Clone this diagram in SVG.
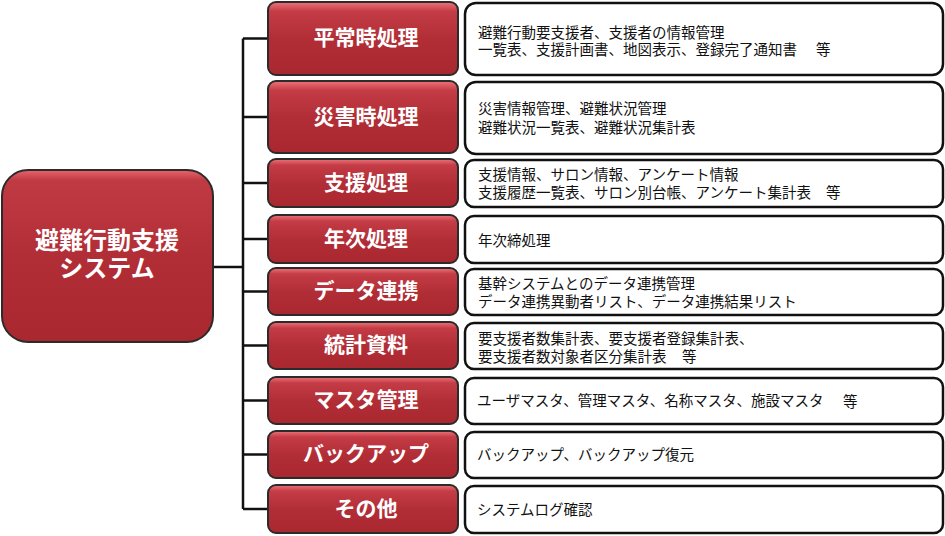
<svg xmlns="http://www.w3.org/2000/svg" width="945" height="536" viewBox="0 0 945 536">
<defs>
<linearGradient id="red" x1="0" y1="0" x2="0" y2="1">
<stop offset="0" stop-color="#EE737B"/>
<stop offset="0.13" stop-color="#C43C45"/>
<stop offset="0.5" stop-color="#B22E37"/>
<stop offset="1" stop-color="#A9272F"/>
</linearGradient>
<linearGradient id="redMain" x1="0" y1="0" x2="0" y2="1">
<stop offset="0" stop-color="#E9646D"/>
<stop offset="0.06" stop-color="#C03A43"/>
<stop offset="0.5" stop-color="#B22E37"/>
<stop offset="1" stop-color="#A9272F"/>
</linearGradient>
</defs>
<style>
.cat{fill:url(#red);stroke:#2b2b2b;stroke-width:2}
.main{fill:url(#redMain);stroke:#2b2b2b;stroke-width:2}
.box{fill:#fff;stroke:#111;stroke-width:2.5}
.ct{font-family:"Noto Sans CJK JP","Noto Sans",sans-serif;font-weight:bold;font-size:21px;fill:#fff;text-anchor:middle;dominant-baseline:central}
.mt{font-family:"Noto Sans CJK JP","Noto Sans",sans-serif;font-weight:bold;font-size:24px;fill:#fff;text-anchor:middle;dominant-baseline:central}
.bt{font-family:"Noto Sans CJK JP","Noto Sans",sans-serif;font-size:14.5px;fill:#111;dominant-baseline:central}
.ln{stroke:#111;stroke-width:2.5;fill:none}
</style>
<g id="connectors">
<line class="ln" x1="213" y1="267" x2="243" y2="267"/>
<line class="ln" x1="243" y1="38.5" x2="243" y2="509"/>
<line class="ln" x1="243" y1="38.5" x2="268" y2="38.5"/>
<line class="ln" x1="243" y1="117" x2="268" y2="117"/>
<line class="ln" x1="243" y1="183" x2="268" y2="183"/>
<line class="ln" x1="243" y1="239" x2="268" y2="239"/>
<line class="ln" x1="243" y1="291.5" x2="268" y2="291.5"/>
<line class="ln" x1="243" y1="345.5" x2="268" y2="345.5"/>
<line class="ln" x1="243" y1="400.5" x2="268" y2="400.5"/>
<line class="ln" x1="243" y1="454.5" x2="268" y2="454.5"/>
<line class="ln" x1="243" y1="509" x2="268" y2="509"/>
</g>
<g id="root">
<rect class="main" x="2" y="170" width="211" height="172" rx="26"/>
<text class="mt"><tspan x="107" y="237.5">避難行動支援</tspan><tspan x="107" y="266">システム</tspan></text>
</g>
<g id="n1">
<rect class="cat" x="268" y="2" width="190" height="73" rx="8"/>
<text class="ct" x="366" y="35.5">平常時処理</text>
<rect class="box" x="465" y="3" width="478" height="72" rx="11"/>
<text class="bt"><tspan x="478" y="30.5">避難行動要支援者、支援者の情報管理</tspan><tspan x="478" y="47.5">一覧表、支援計画書、地図表示、登録完了通知書</tspan><tspan x="816" y="47.5">等</tspan></text>
</g>
<g id="n2">
<rect class="cat" x="268" y="81" width="190" height="72" rx="8"/>
<text class="ct" x="366" y="114.5">災害時処理</text>
<rect class="box" x="465" y="82" width="478" height="72" rx="11"/>
<text class="bt"><tspan x="478" y="107">災害情報管理、避難状況管理</tspan><tspan x="478" y="125.5">避難状況一覧表、避難状況集計表</tspan></text>
</g>
<g id="n3">
<rect class="cat" x="268" y="159" width="190" height="48" rx="8"/>
<text class="ct" x="366" y="180.5">支援処理</text>
<rect class="box" x="465" y="160" width="478" height="47" rx="9"/>
<text class="bt"><tspan x="478" y="173">支援情報、サロン情報、アンケート情報</tspan><tspan x="478" y="191">支援履歴一覧表、サロン別台帳、アンケート集計表</tspan><tspan x="826" y="191">等</tspan></text>
</g>
<g id="n4">
<rect class="cat" x="268" y="215" width="190" height="48" rx="8"/>
<text class="ct" x="366" y="236.5">年次処理</text>
<rect class="box" x="465" y="216" width="478" height="47" rx="9"/>
<text class="bt" x="478" y="239">年次締処理</text>
</g>
<g id="n5">
<rect class="cat" x="268" y="268" width="190" height="47" rx="8"/>
<text class="ct" x="366" y="289">データ連携</text>
<rect class="box" x="465" y="269" width="478" height="46" rx="9"/>
<text class="bt"><tspan x="478" y="282">基幹システムとのデータ連携管理</tspan><tspan x="478" y="300">データ連携異動者リスト、データ連携結果リスト</tspan></text>
</g>
<g id="n6">
<rect class="cat" x="268" y="322" width="190" height="47" rx="8"/>
<text class="ct" x="366" y="343">統計資料</text>
<rect class="box" x="465" y="323" width="478" height="46" rx="9"/>
<text class="bt"><tspan x="478" y="337">要支援者数集計表、要支援者登録集計表、</tspan><tspan x="478" y="355">要支援者数対象者区分集計表</tspan><tspan x="682" y="355">等</tspan></text>
</g>
<g id="n7">
<rect class="cat" x="268" y="377" width="190" height="47" rx="8"/>
<text class="ct" x="366" y="398">マスタ管理</text>
<rect class="box" x="465" y="378" width="478" height="46" rx="9"/>
<text class="bt" x="477" y="399.5">ユーザマスタ、管理マスタ、名称マスタ、施設マスタ<tspan x="843">等</tspan></text>
</g>
<g id="n8">
<rect class="cat" x="268" y="431" width="190" height="47" rx="8"/>
<text class="ct" x="366" y="452">バックアップ</text>
<rect class="box" x="465" y="432" width="478" height="46" rx="9"/>
<text class="bt" x="477" y="453.5">バックアップ、バックアップ復元</text>
</g>
<g id="n9">
<rect class="cat" x="268" y="485" width="190" height="48" rx="8"/>
<text class="ct" x="366" y="506.5">その他</text>
<rect class="box" x="465" y="486" width="478" height="47" rx="9"/>
<text class="bt" x="477" y="508">システムログ確認</text>
</g>
</svg>
